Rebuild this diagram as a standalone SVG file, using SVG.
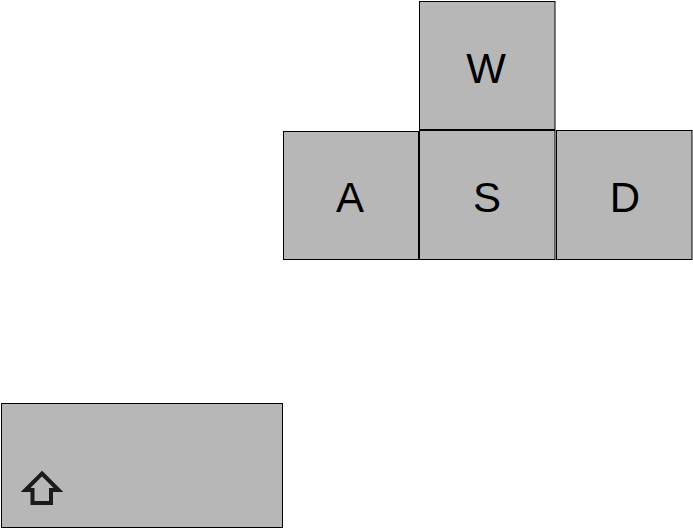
<svg xmlns="http://www.w3.org/2000/svg" width="693" height="529" viewBox="0 0 693 529">
<style>
.key{fill:#b7b7b7;stroke:#000;stroke-width:1}
.lbl{font-family:"Liberation Sans",Arial,sans-serif;font-size:42px;fill:#000;text-anchor:middle}
</style>
<rect width="693" height="529" fill="#fff"/>
<g id="key-w"><rect class="key" x="419.500" y="1.500" width="135.500" height="128"/><text class="lbl" x="486" y="83">W</text></g>
<g id="key-a"><rect class="key" x="283.500" y="131.500" width="135" height="128"/><text class="lbl" x="350" y="212">A</text></g>
<g id="key-s"><rect class="key" x="419.500" y="130.500" width="135.500" height="129"/><text class="lbl" x="487" y="212">S</text></g>
<g id="key-d"><rect class="key" x="556.500" y="130.500" width="135.500" height="129"/><text class="lbl" x="625" y="212">D</text></g>
<g id="key-shift"><rect class="key" x="1.500" y="403.500" width="281" height="124"/>
<path d="M42 473.500L58.500 490H51V503H32.500V490H25.500Z" fill="none" stroke="#1a1a1a" stroke-width="4"/></g>
<g id="connectors"></g>
</svg>
